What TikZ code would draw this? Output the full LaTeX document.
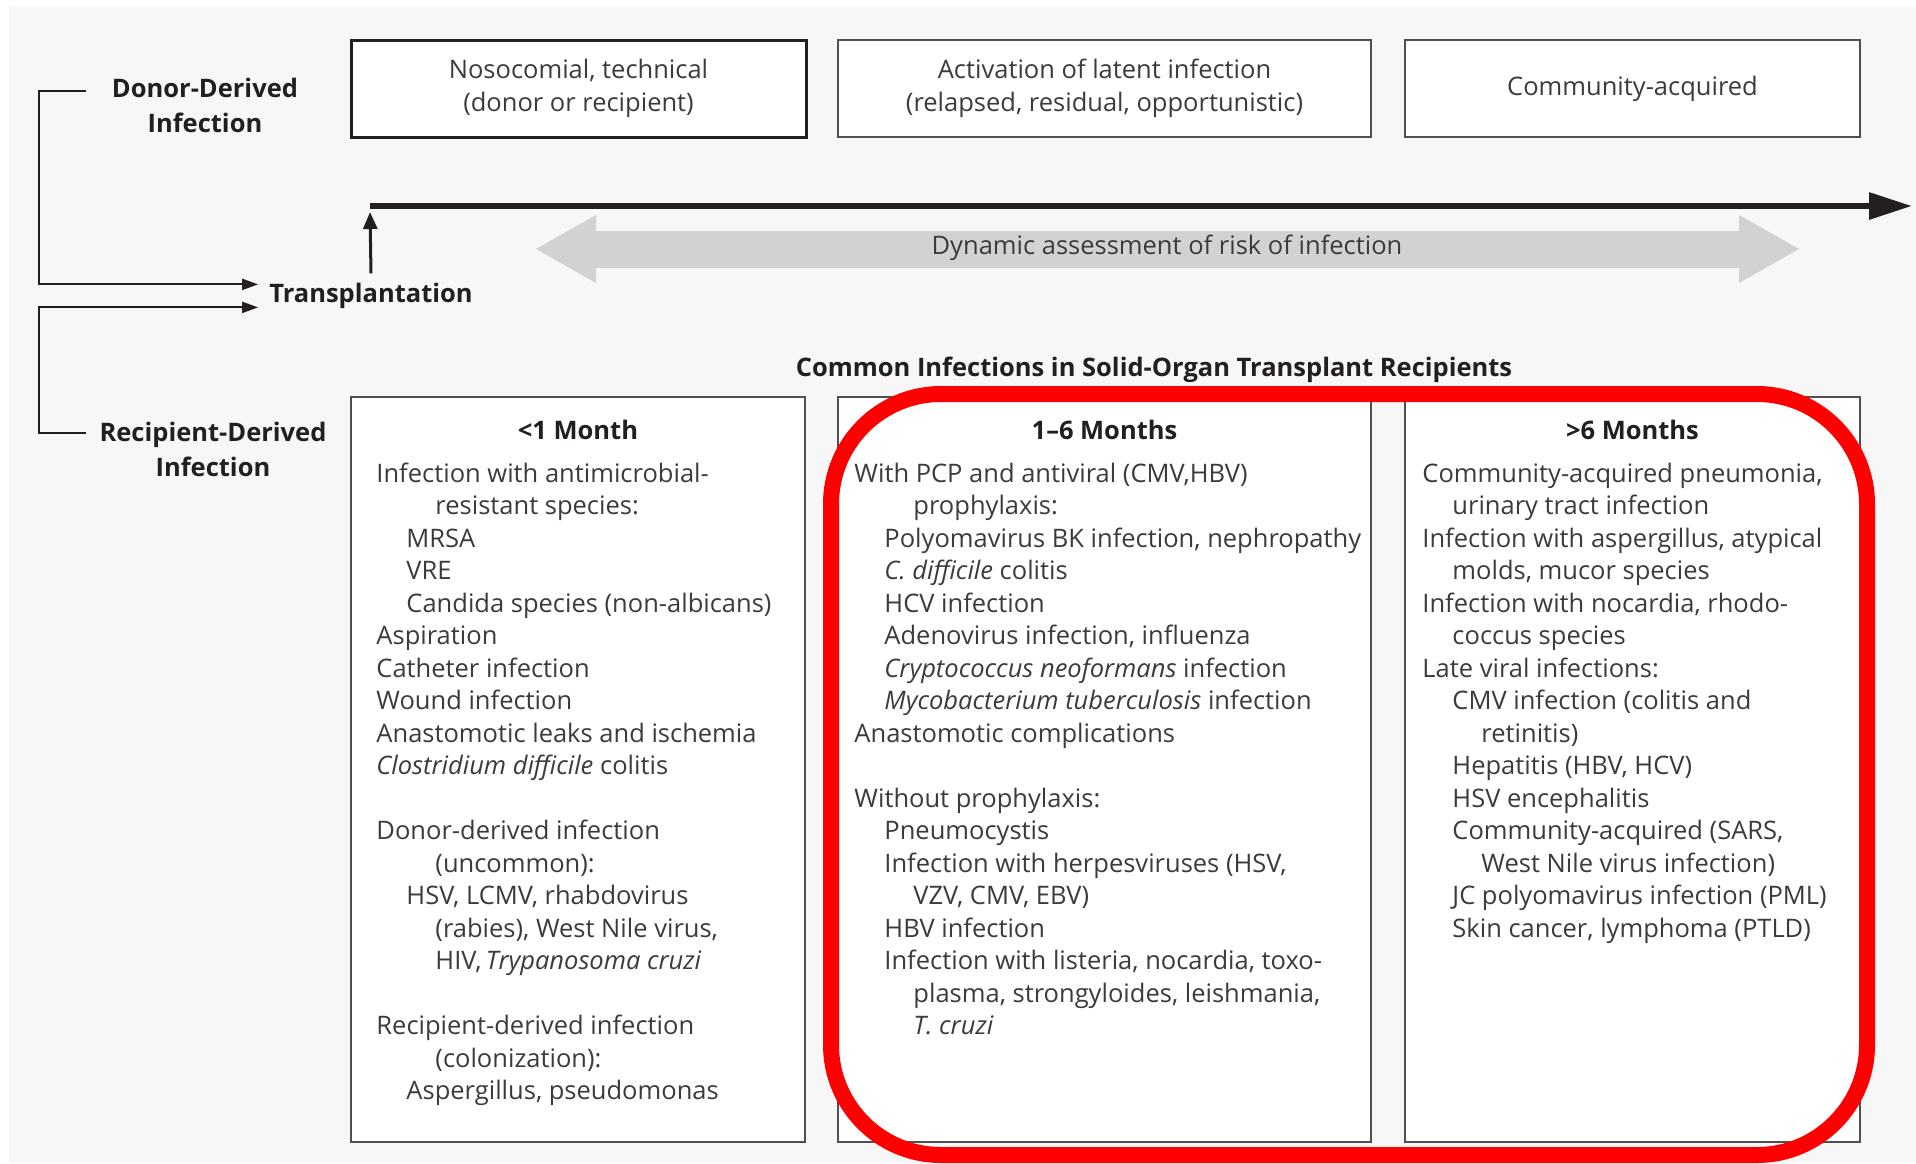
\documentclass[tikz,border=0pt]{standalone}
\usepackage{fontspec}
\setmainfont{Open Sans}
\usepackage{xcolor}
\usetikzlibrary{arrows.meta,positioning}
\definecolor{ink}{HTML}{231F20}
\definecolor{txt}{HTML}{3B3B3B}
\definecolor{paper}{HTML}{F7F7F7}
\definecolor{band}{HTML}{D1D2D4}
\definecolor{frame}{HTML}{505050}
\definecolor{hilite}{HTML}{FF0000}
\newcommand{\tabA}{\hspace*{30pt}}
\newcommand{\tabB}{\hspace*{59pt}}
\newcommand{\bodyfont}{\fontsize{25.5}{32.5}\selectfont}
\tikzset{
  phasebox/.style={draw=frame,line width=1.5pt,fill=white,minimum height=97pt,align=center,text=txt,font=\bodyfont},
  colbox/.style={draw=frame,line width=1.5pt,fill=white,minimum height=745pt},
  colhead/.style={anchor=base,inner sep=0pt,text=ink,font=\bodyfont\bfseries},
  colitems/.style={anchor=north west,inner sep=0pt,align=left,text=txt,font=\bodyfont},
  sidetag/.style={align=center,text=ink,font=\fontsize{25.5}{35}\selectfont\bfseries},
  feedline/.style={line width=2pt,ink,-{Triangle[length=16pt,width=11pt]}},
  timeaxis/.style={line width=6pt,ink,-{Triangle[length=43pt,width=26pt]}},
  riseline/.style={line width=3pt,ink,-{Triangle[length=17pt,width=14pt]}},
  ring/.style={draw=hilite,line width=16pt,rounded corners=110pt}
}
\begin{document}
\begin{tikzpicture}[x=1pt,y=-1pt]
    \useasboundingbox (0,0) rectangle (1916,1163);
    \fill[white] (0,0) rectangle (1916,1163);
    \fill[paper] (9,6) rectangle (1916,1163);

    \coordinate (t0) at (370,206); \coordinate (t1) at (1912,206);
    \coordinate (donend) at (86,91); \coordinate (recend) at (86,433);

    \node[phasebox,draw=ink,line width=3pt,minimum width=455pt] (noso) at (578.5,88.5) {Nosocomial, technical\\(donor or recipient)};
    \node[phasebox,minimum width=533pt] (latent) at (1104.5,88.5) {Activation of latent infection\\(relapsed, residual, opportunistic)};
    \node[phasebox,minimum width=455pt] (comm) at (1632.5,88.5) {Community-acquired};

    \node[sidetag] (donor) at (205,105) {Donor-Derived\\Infection};
    \node[sidetag] (recip) at (213,449) {Recipient-Derived\\Infection};
    \node[colhead] (trans) at (371,302) {Transplantation};

    \fill[band] (536,249) -- (596,215) -- (596,231) -- (1739,231) -- (1739,215) -- (1799,249)
        -- (1739,283) -- (1739,268) -- (596,268) -- (596,283) -- cycle;
    \node[text=txt,font=\bodyfont] (risk) at (1167,248) {Dynamic assessment of risk of infection};

    \draw[timeaxis] (t0) -- (t1);
    \draw[riseline] ([yshift=9pt]trans.north) -- ([yshift=-6pt]t0);
    \draw[feedline] (donend) -- ++(-47,0) |- ([shift={(-11pt,11pt)}]trans.west);
    \draw[feedline] (recend) -- ++(-47,0) |- ([shift={(-11pt,-12pt)}]trans.west);

    \node[colhead] (common) at (1154,376) {Common Infections in Solid-Organ Transplant Recipients};

    \node[colbox,minimum width=454pt] (early) at (578,769.5) {};
    \node[colbox,minimum width=533pt] (mid) at (1104.5,769.5) {};
    \node[colbox,minimum width=455pt] (late) at (1632.5,769.5) {};

    \node[colhead] (earlyhead) at ([yshift=-43pt]early.north) {<1 Month};
    \node[colhead] (midhead) at ([yshift=-43pt]mid.north) {1--6 Months};
    \node[colhead] (latehead) at ([yshift=-43pt]late.north) {>6 Months};

    \node[colitems] (earlylist) at ([shift={(26pt,-63pt)}]early.north west) {\strut Infection with antimicrobial-\\
        \tabB resistant species:\\
        \tabA MRSA\\
        \tabA VRE\\
        \tabA Candida species (non-albicans)\\
        Aspiration\\
        Catheter infection\\
        Wound infection\\
        Anastomotic leaks and ischemia\\
        \textit{Clostridium difficile} colitis\\[32.5pt]
        Donor-derived infection\\
        \tabB (uncommon):\\
        \tabA HSV, LCMV, rhabdovirus\\
        \tabB (rabies), West Nile virus,\\
        \tabB HIV,\,\textit{Trypanosoma cruzi}\\[32.5pt]
        Recipient-derived infection\\
        \tabB (colonization):\\
        \tabA Aspergillus, pseudomonas};

    \node[colitems] (midlist) at ([shift={(17pt,-63pt)}]mid.north west) {\strut With PCP and antiviral (CMV,HBV)\\
        \tabB prophylaxis:\\
        \tabA Polyomavirus BK infection, nephropathy\\
        \tabA \textit{C. difficile} colitis\\
        \tabA HCV infection\\
        \tabA Adenovirus infection, influenza\\
        \tabA \textit{Cryptococcus neoformans} infection\\
        \tabA \textit{Mycobacterium tuberculosis} infection\\
        Anastomotic complications\\[32.5pt]
        Without prophylaxis:\\
        \tabA Pneumocystis\\
        \tabA Infection with herpesviruses (HSV,\\
        \tabB VZV, CMV, EBV)\\
        \tabA HBV infection\\
        \tabA Infection with listeria, nocardia, toxo-\\
        \tabB plasma, strongyloides, leishmania,\\
        \tabB \textit{T. cruzi}};

    \node[colitems] (latelist) at ([shift={(18pt,-63pt)}]late.north west) {\strut Community-acquired pneumonia,\\
        \tabA urinary tract infection\\
        Infection with aspergillus, atypical\\
        \tabA molds, mucor species\\
        Infection with nocardia, rhodo-\\
        \tabA coccus species\\
        Late viral infections:\\
        \tabA CMV infection (colitis and\\
        \tabB retinitis)\\
        \tabA Hepatitis (HBV, HCV)\\
        \tabA HSV encephalitis\\
        \tabA Community-acquired (SARS,\\
        \tabB West Nile virus infection)\\
        \tabA JC polyomavirus infection (PML)\\
        \tabA Skin cancer, lymphoma (PTLD)};

    \draw[ring] (831,394) rectangle (1867,1155);
\end{tikzpicture}
\end{document}
